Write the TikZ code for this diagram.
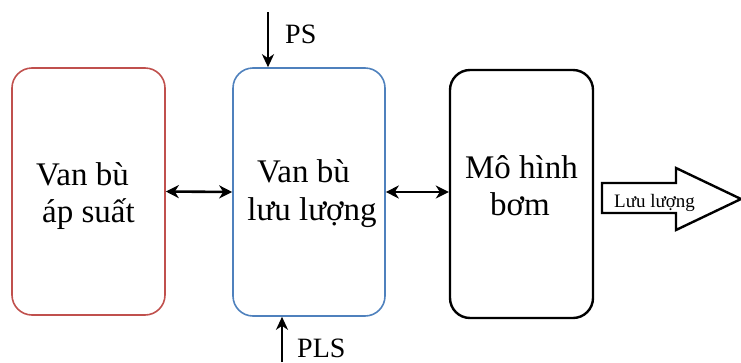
\documentclass[tikz,border=0pt]{standalone}
\usepackage{fontspec}
\setmainfont{Liberation Serif}
\usetikzlibrary{arrows.meta}

\definecolor{vanred}{RGB}{192,80,77}
\definecolor{vanblue}{RGB}{79,129,189}

\tikzset{
  khoi/.style={rounded corners=20pt, inner sep=0pt},
  chu/.style={font=\fontsize{33}{37}\selectfont, inner sep=0pt, anchor=base},
  noi/.style={{Stealth[length=13pt,width=13pt,inset=4pt]}-{Stealth[length=13pt,width=13pt,inset=4pt]}, line width=2.6pt},
  vao/.style={-{Stealth[length=13pt,width=12pt,inset=4pt]}, line width=2.2pt},
  nhan/.style={font=\fontsize{28}{32}\selectfont, inner sep=0pt, anchor=base west}
}

\begin{document}
\begin{tikzpicture}[x=1pt,y=-1pt] %so do van bu
            \useasboundingbox (0,0) rectangle (741,362);

            \node[khoi, draw=vanred, line width=1.6pt, minimum width=153pt, minimum height=247pt] (vanap) at (88.5,191.5) {};
            \node[khoi, draw=vanblue, line width=1.6pt, minimum width=152pt, minimum height=248pt] (vanluu) at (309,192) {};
            \node[khoi, draw=black, line width=2.4pt, minimum width=143pt, minimum height=248pt] (bom) at (521.5,194) {};

            \node[chu] (vanap1) at (82.5,185) {Van bù};
            \node[chu] (vanap2) at (88.5,222) {áp suất};
            \node[chu] (vanluu1) at (303.5,182) {Van bù};
            \node[chu] (vanluu2) at (312,220) {lưu lượng};
            \node[chu] (bom1) at (521.5,178) {Mô hình};
            \node[chu] (bom2) at (520,215) {bơm};

            \draw[noi] (vanap.east) -- (vanluu.west);
            \draw[noi] (vanluu.east) -- (vanluu.east -| bom.west);

            \coordinate (psdau) at (268,12);
            \coordinate (plsdau) at (282,362);
            \draw[vao] (psdau) -- (psdau |- vanluu.north);
            \draw[vao] (plsdau) -- (plsdau |- vanluu.south);
            \node[nhan] (ps) at (285,43) {PS};
            \node[nhan] (pls) at (297,357) {PLS};

            % mui ten luu luong
            \draw[line width=2.4pt, line join=miter] (602,183) -- (676,183) -- (676,168) -- (741,199) -- (676,230) -- (676,213) -- (602,213) -- cycle;
            \node[font=\fontsize{19}{22}\selectfont, inner sep=0pt, anchor=base west] (luuluong) at (614,207) {Lưu lượng};
        \end{tikzpicture}
\end{document}
